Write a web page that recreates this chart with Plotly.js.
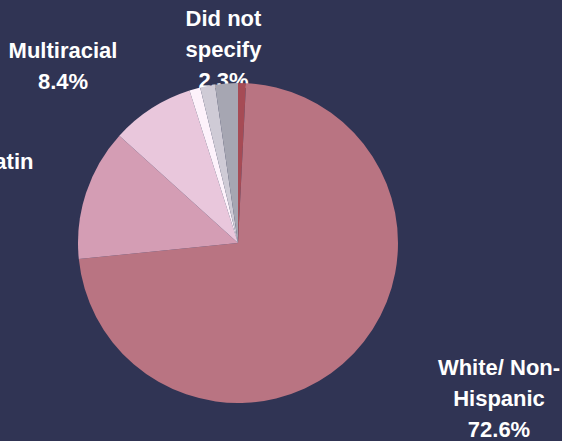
<!DOCTYPE html>
<html>
<head>
<meta charset="utf-8">
<script src="https://cdn.plot.ly/plotly-3.0.1.min.js"></script>
<style>
html,body{margin:0;padding:0;background:#303454;}
#chart{width:562px;height:441px;}
</style>
</head>
<body>
<div id="chart"></div>
<script>
// Data (slices clockwise from 12 o'clock)
const categories = ["Black/ African American", "White/ Non-Hispanic", "Hispanic/ Latin", "Multiracial", "Asian", "American Indian", "Did not specify"];
const values = [0.8, 72.6, 13.3, 8.4, 1.1, 1.5, 2.3];
const colors = ["#a64b55", "#b97482", "#d49db4", "#e9c7dc", "#fdf2fb", "#cfcbd6", "#a6a6b2"];

// Drawn labels: category index and wrapped label lines
const labelIndex = [1, 2, 3, 6];
const labelLines = [["White/ Non-", "Hispanic"], ["Hispanic/ Latin"], ["Multiracial"], ["Did not", "specify"]];
// layout only: centre x and first-line y of each label block (pixels)
const labelX = [499, -45, 63, 223.5];
const labelY = [369.3, 161.3, 52.3, 20.6];
const lineGap = 31;

const W = 562, H = 441;
const cx = 238, cy = 243, r = 160;
const font = {family: 'Liberation Sans, Arial, sans-serif', size: 22, color: '#ffffff', weight: 'bold'};

// Split each label into single lines so the line spacing can match
const tx = [], ty = [], tt = [];
const annotations = [];
labelIndex.forEach((idx, i) => {
  const lines = labelLines[i].concat([values[idx].toFixed(1) + '%']);
  lines.forEach((ln, j) => {
    const x = labelX[i], y = labelY[i] + j * lineGap;
    if (x >= 0 && x <= W) {
      tx.push(x); ty.push(y); tt.push(ln);
    } else {
      annotations.push({
        xref: 'paper', yref: 'paper', x: x / W, y: 1 - y / H,
        xanchor: 'center', yanchor: 'middle', text: ln, showarrow: false,
        font: font, borderpad: 0
      });
    }
  });
});

const labelTrace = {
  type: 'scatter',
  mode: 'text',
  x: tx,
  y: ty,
  text: tt,
  textposition: 'middle center',
  textfont: font,
  cliponaxis: false,
  hoverinfo: 'skip',
  showlegend: false
};

const pieTrace = {
  type: 'pie',
  labels: categories,
  values: values,
  sort: false,
  direction: 'clockwise',
  rotation: 0,
  marker: {colors: colors, line: {width: 0}},
  textinfo: 'none',
  hoverinfo: 'skip',
  showlegend: false,
  domain: {x: [(cx - r) / W, (cx + r) / W], y: [(H - cy - r) / H, (H - cy + r) / H]}
};

const layout = {
  width: W, height: H,
  margin: {l: 0, r: 0, t: 0, b: 0},
  paper_bgcolor: '#303454',
  plot_bgcolor: '#303454',
  showlegend: false,
  annotations: annotations,
  xaxis: {range: [0, W], visible: false, fixedrange: true},
  yaxis: {range: [H, 0], visible: false, fixedrange: true}
};

Plotly.newPlot('chart', [labelTrace, pieTrace], layout, {displayModeBar: false, staticPlot: true});
</script>
</body>
</html>
